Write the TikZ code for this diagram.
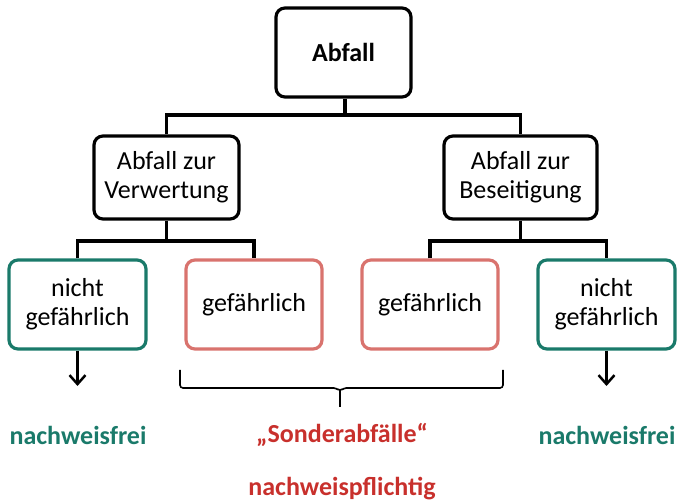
\documentclass[tikz,border=0pt]{standalone}
\usepackage{fontspec}
\setmainfont{Carlito}
\usetikzlibrary{arrows.meta}
\definecolor{teal1}{HTML}{1A7A6A}
\definecolor{redbox}{HTML}{D9736E}
\definecolor{redtxt}{HTML}{C8302C}
\begin{document}
\begin{tikzpicture}[x=1pt,y=-1pt,
  font=\fontsize{26}{29}\selectfont,
  box/.style={draw=black,line width=3.2pt,rounded corners=9pt,align=center,inner sep=0pt,fill=white},
  greenbox/.style={box,draw=teal1,minimum width=137pt,minimum height=89pt},
  redb/.style={box,draw=redbox,minimum width=136pt,minimum height=89pt},
  conn/.style={line width=3.2pt},
  gtext/.style={text=teal1,font=\fontsize{26}{29}\selectfont\bfseries},
  rtext/.style={text=redtxt,font=\fontsize{26}{29}\selectfont\bfseries},
  arr/.style={line width=2.5pt,-{Straight Barb[length=9pt,width=16pt,line width=2.5pt]}}]
\useasboundingbox (0,0) rectangle (678,502);
\node[box,minimum width=135pt,minimum height=89pt,font=\fontsize{26}{29}\selectfont\bfseries] (abfall) at (343.5,52.5) {Abfall};
\node[box,minimum width=145pt,minimum height=83pt] (verw) at (166.5,177.5) {Abfall zur\\Verwertung};
\node[box,minimum width=153pt,minimum height=83pt] (besei) at (520.5,177.5) {Abfall zur\\Beseitigung};
\node[greenbox] (ng1) at (77.5,304.5) {nicht\\gefährlich};
\node[redb] (g1) at (254,304.5) {gefährlich};
\node[redb] (g2) at (430,304.5) {gefährlich};
\node[greenbox] (ng2) at (606.5,304.5) {nicht\\gefährlich};
\coordinate (j1) at (345,115);
\coordinate (j2) at (166.5,241);
\coordinate (j3) at (520.5,241);
\draw[conn] (abfall.south -| j1) -- (j1);
\draw[conn] (verw.north) |- (j1) -| (besei.north);
\draw[conn] (verw.south) -- (j2);
\draw[conn] (ng1.north) |- (j2) -| (g1.north);
\draw[conn] (besei.south) -- (j3);
\draw[conn] (g2.north) |- (j3) -| (ng2.north);
\node[gtext] (nf1) at (78,435) {nachweisfrei};
\node[gtext] (nf2) at (607,435) {nachweisfrei};
\node[rtext] (sonder) at (342,435) {„Sonderabfälle“};
\node[rtext] (pflicht) at (342,489) {nachweispflichtig};
\coordinate (a1) at (77.5,386);
\coordinate (a2) at (606.5,386);
\draw[arr] (ng1.south) -- (a1);
\draw[arr] (ng2.south) -- (a2);
\coordinate (bl) at (180,370);
\coordinate (br) at (503,370);
\coordinate (bc) at (340,407);
\draw[line width=1.6pt,rounded corners=3pt] (bl) -- (180,388) -- (336,388) -- (340,391) -- (344,388) -- (503,388) -- (br);
\draw[line width=1.8pt] (340,389) -- (bc);
\end{tikzpicture}
\end{document}
